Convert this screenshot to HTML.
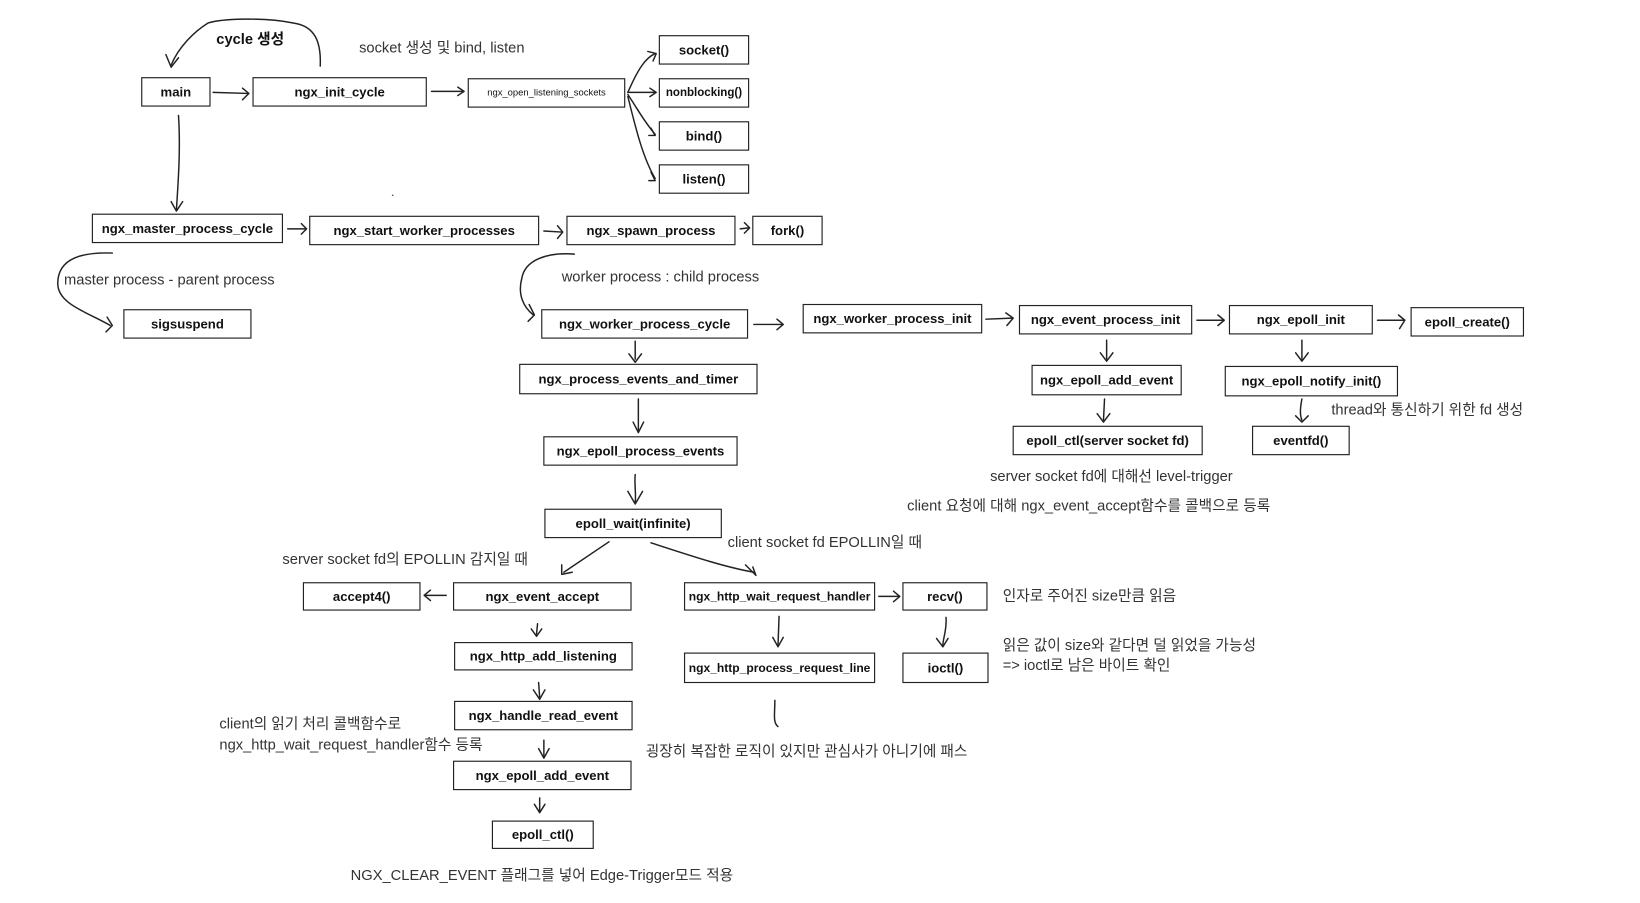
<!DOCTYPE html>
<html><head><meta charset="utf-8"><style>
html,body{margin:0;padding:0;background:#fff;}
svg{display:block}
.b rect{fill:#fff;stroke:#222;stroke-width:1.1}
.b text{font-family:"Liberation Sans","Noto Sans CJK KR",sans-serif;font-size:12.5px;font-weight:bold;fill:#111;text-anchor:middle;dominant-baseline:central}
.t{font-family:"Liberation Sans","Noto Sans CJK KR",sans-serif;font-size:14px;fill:#333}
.a{fill:none;stroke:#222;stroke-width:1.4;stroke-linecap:round;stroke-linejoin:round}
</style></head><body>
<svg width="1640" height="903" viewBox="0 0 1562 860" preserveAspectRatio="none" xmlns="http://www.w3.org/2000/svg">
<g class="b">
<rect x="135" y="74" width="65" height="27"/><text x="167.5" y="87.5">main</text>
<rect x="241" y="74" width="165" height="27"/><text x="323.5" y="87.5">ngx_init_cycle</text>
<rect x="446" y="75" width="149" height="27"/><text x="520.5" y="88.5" style="font-size:9px;font-weight:normal">ngx_open_listening_sockets</text>
<rect x="628" y="34" width="85" height="27"/><text x="670.5" y="47.5">socket()</text>
<rect x="628" y="75" width="85" height="27"/><text x="670.5" y="88.5" style="font-size:11px">nonblocking()</text>
<rect x="628" y="116" width="85" height="27"/><text x="670.5" y="129.5">bind()</text>
<rect x="628" y="157" width="85" height="27"/><text x="670.5" y="170.5">listen()</text>
<rect x="88" y="204" width="181" height="27"/><text x="178.5" y="217.5">ngx_master_process_cycle</text>
<rect x="295" y="206" width="218" height="27"/><text x="404" y="219.5">ngx_start_worker_processes</text>
<rect x="540" y="206" width="160" height="27"/><text x="620" y="219.5">ngx_spawn_process</text>
<rect x="717" y="206" width="66" height="27"/><text x="750" y="219.5">fork()</text>
<rect x="118" y="295" width="121" height="27"/><text x="178.5" y="308.5">sigsuspend</text>
<rect x="516" y="295" width="196" height="27"/><text x="614" y="308.5">ngx_worker_process_cycle</text>
<rect x="495" y="347" width="226" height="28"/><text x="608" y="361">ngx_process_events_and_timer</text>
<rect x="518" y="416" width="184" height="27"/><text x="610" y="429.5">ngx_epoll_process_events</text>
<rect x="519" y="485" width="168" height="27"/><text x="603" y="498.5">epoll_wait(infinite)</text>
<rect x="765" y="290" width="170" height="27"/><text x="850" y="303.5">ngx_worker_process_init</text>
<rect x="971" y="291" width="164" height="27"/><text x="1053" y="304.5">ngx_event_process_init</text>
<rect x="1171" y="291" width="136" height="27"/><text x="1239" y="304.5">ngx_epoll_init</text>
<rect x="1344" y="293" width="107" height="27"/><text x="1397.5" y="306.5">epoll_create()</text>
<rect x="983" y="348" width="142" height="28"/><text x="1054" y="362">ngx_epoll_add_event</text>
<rect x="1167" y="349" width="164" height="28"/><text x="1249" y="363">ngx_epoll_notify_init()</text>
<rect x="965" y="406" width="180" height="27"/><text x="1055" y="419.5">epoll_ctl(server socket fd)</text>
<rect x="1193" y="406" width="92" height="27"/><text x="1239" y="419.5">eventfd()</text>
<rect x="289" y="555" width="111" height="26"/><text x="344.5" y="568">accept4()</text>
<rect x="432" y="555" width="169" height="26"/><text x="516.5" y="568">ngx_event_accept</text>
<rect x="652" y="555" width="181" height="26"/><text x="742.5" y="568" style="font-size:11.5px">ngx_http_wait_request_handler</text>
<rect x="860" y="555" width="80" height="26"/><text x="900" y="568">recv()</text>
<rect x="433" y="612" width="169" height="26"/><text x="517.5" y="625">ngx_http_add_listening</text>
<rect x="652" y="622" width="181" height="28"/><text x="742.5" y="636" style="font-size:11.5px">ngx_http_process_request_line</text>
<rect x="860" y="622" width="81" height="28"/><text x="900.5" y="636">ioctl()</text>
<rect x="433" y="668" width="169" height="27"/><text x="517.5" y="681.5">ngx_handle_read_event</text>
<rect x="432" y="725" width="169" height="27"/><text x="516.5" y="738.5">ngx_epoll_add_event</text>
<rect x="469" y="782" width="96" height="26"/><text x="517" y="795">epoll_ctl()</text>
</g>
<text class="t" x="206" y="42" style="font-weight:bold;fill:#111">cycle 생성</text>
<text class="t" x="342" y="50">socket 생성 및 bind, listen</text>
<text class="t" x="61" y="271">master process - parent process</text>
<text class="t" x="535" y="268">worker process : child process</text>
<text class="t" x="1268" y="395">thread와 통신하기 위한 fd 생성</text>
<text class="t" x="943" y="458">server socket fd에 대해선 level-trigger</text>
<text class="t" x="864" y="486">client 요청에 대해 ngx_event_accept함수를 콜백으로 등록</text>
<text class="t" x="693" y="521">client socket fd EPOLLIN일 때</text>
<text class="t" x="269" y="537">server socket fd의 EPOLLIN 감지일 때</text>
<text class="t" x="955" y="572">인자로 주어진 size만큼 읽음</text>
<text class="t" x="955" y="619">읽은 값이 size와 같다면 덜 읽었을 가능성</text>
<text class="t" x="955" y="638">=&gt; ioctl로 남은 바이트 확인</text>
<text class="t" x="209" y="694">client의 읽기 처리 콜백함수로</text>
<text class="t" x="209" y="714">ngx_http_wait_request_handler함수 등록</text>
<text class="t" x="615" y="720">굉장히 복잡한 로직이 있지만 관심사가 아니기에 패스</text>
<text class="t" x="334" y="838">NGX_CLEAR_EVENT 플래그를 넣어 Edge-Trigger모드 적용</text>
<g class="a">
<path d="M305 63 C306 40 300 25 280 22 C250 16 210 18 198 22 C185 30 170 45 163 62"/><path d="M158 52 L163 64 L170 55"/>
<path d="M203 88 L236 89"/><path d="M231 84 L237 89 L231 95"/>
<path d="M411 87 L441 87"/><path d="M436 83 L442 87 L436 91"/>
<path d="M598 88 C608 65 615 55 624 51"/><path d="M617 49 L625 51 L622 58"/>
<path d="M598 88 L624 88"/><path d="M619 84 L625 88 L619 92"/>
<path d="M598 90 C608 105 613 115 624 128"/><path d="M620 122 L624 129 L618 129"/>
<path d="M598 92 C605 120 612 150 624 170"/><path d="M620 164 L624 172 L618 172"/>
<path d="M170 110 C172 140 170 170 168 200"/><path d="M163 192 L168 201 L174 192"/>
<path d="M274 218 L291 218"/><path d="M287 213 L292 218 L287 223"/>
<path d="M518 220 L535 221"/><path d="M531 215 L536 221 L531 227"/>
<path d="M705 218 L713 217"/><path d="M709 212 L714 217 L709 222"/>
<path d="M107 241 C80 240 55 245 55 270 C55 290 85 298 105 310"/><path d="M102 302 L107 310 L101 316"/>
<path d="M547 242 C520 240 500 248 497 265 C493 280 498 292 508 300"/><path d="M504 290 L509 300 L503 306"/>
<path d="M718 309 L745 309"/><path d="M740 304 L746 309 L740 314"/>
<path d="M939 304 L964 303"/><path d="M958 298 L965 303 L959 310"/>
<path d="M1140 305 L1165 305"/><path d="M1160 300 L1166 305 L1160 310"/>
<path d="M1312 305 L1338 305"/><path d="M1332 300 L1338 305 L1333 313"/>
<path d="M1054 324 L1054 342"/><path d="M1048 336 L1054 344 L1060 336"/>
<path d="M1240 324 L1240 342"/><path d="M1234 336 L1240 344 L1246 336"/>
<path d="M1052 380 L1051 400"/><path d="M1045 394 L1051 402 L1057 394"/>
<path d="M1240 380 C1238 390 1238 396 1240 400"/><path d="M1234 396 L1240 402 L1246 396"/>
<path d="M605 325 L605 342"/><path d="M599 337 L605 345 L611 337"/>
<path d="M608 380 L608 410"/><path d="M603 402 L608 412 L613 402"/>
<path d="M605 452 C604 460 606 470 605 479"/><path d="M598 468 L605 480 L612 468"/>
<path d="M580 516 L537 545"/><path d="M535 538 L535 547 L545 545"/>
<path d="M620 517 C660 530 690 540 718 545"/><path d="M710 538 L720 548 L717 540"/>
<path d="M425 567 L405 567"/><path d="M410 562 L404 567 L410 572"/>
<path d="M837 568 L856 568"/><path d="M851 563 L857 568 L851 573"/>
<path d="M512 594 L511 604"/><path d="M506 599 L511 606 L516 599"/>
<path d="M742 587 L741 615"/><path d="M736 607 L741 616 L746 607"/>
<path d="M901 588 C902 600 898 608 898 615"/><path d="M892 608 L898 616 L903 608"/>
<path d="M513 650 L514 664"/><path d="M508 657 L514 666 L519 657"/>
<path d="M518 705 L518 720"/><path d="M513 713 L518 722 L523 713"/>
<path d="M514 760 L514 772"/><path d="M509 766 L514 774 L519 766"/>
<path d="M738 667 C738 680 736 688 741 692"/><path d="M735 688 L742 692 L746 686" style="display:none"/>
</g>
<circle cx="374" cy="186" r="0.8" fill="#555"/>
</svg>
</body></html>
